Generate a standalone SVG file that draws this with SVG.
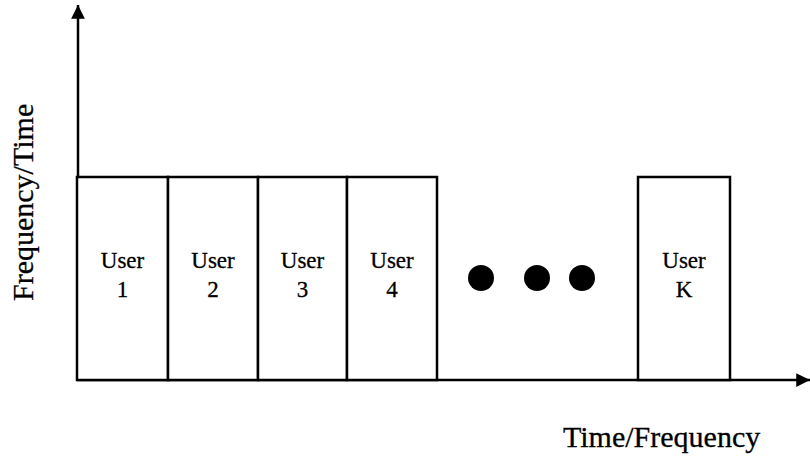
<svg xmlns="http://www.w3.org/2000/svg" width="810" height="457" viewBox="0 0 810 457">
<style>
.ln{stroke:#000;stroke-width:2.5;fill:none}
.box{stroke:#000;stroke-width:2.5;fill:#fff}
.lbl{font-family:"Liberation Serif","Times New Roman",serif;font-size:23px;fill:#000;stroke:#000;stroke-width:0.3;text-anchor:middle}
.ax{font-family:"Liberation Serif","Times New Roman",serif;font-size:30px;fill:#000;stroke:#000;stroke-width:0.3}
</style>
<defs>
<marker id="ah" viewBox="0 0 10 10" refX="10" refY="5" markerWidth="6" markerHeight="5.5" orient="auto" markerUnits="strokeWidth">
<path d="M0,0 L10,5 L0,10 Z" fill="#000"/>
</marker>
</defs>
<rect width="810" height="457" fill="#fff"/>
<g id="connectors">
<line class="ln" x1="78" y1="381" x2="78" y2="5" marker-end="url(#ah)"/>
<line class="ln" x1="77" y1="380" x2="810" y2="380" marker-end="url(#ah)"/>
</g>
<g id="user1"><rect class="box" x="77" y="177" width="91" height="203"/><text class="lbl" x="122.5" y="268">User</text><text class="lbl" x="122.5" y="297">1</text></g>
<g id="user2"><rect class="box" x="168" y="177" width="90" height="203"/><text class="lbl" x="213" y="268">User</text><text class="lbl" x="213" y="297">2</text></g>
<g id="user3"><rect class="box" x="258" y="177" width="89" height="203"/><text class="lbl" x="302.5" y="268">User</text><text class="lbl" x="302.5" y="297">3</text></g>
<g id="user4"><rect class="box" x="347" y="177" width="90" height="203"/><text class="lbl" x="392" y="268">User</text><text class="lbl" x="392" y="297">4</text></g>
<g id="ellipsis">
<circle cx="481" cy="278" r="13" fill="#000"/>
<circle cx="537" cy="278" r="13" fill="#000"/>
<circle cx="582" cy="278" r="13" fill="#000"/>
</g>
<g id="userK"><rect class="box" x="638" y="177" width="92" height="203"/><text class="lbl" x="684" y="268">User</text><text class="lbl" x="684" y="297">K</text></g>
<text class="ax" x="563" y="447">Time/Frequency</text>
<text class="ax" transform="translate(33,301) rotate(-90)">Frequency/Time</text>
</svg>
